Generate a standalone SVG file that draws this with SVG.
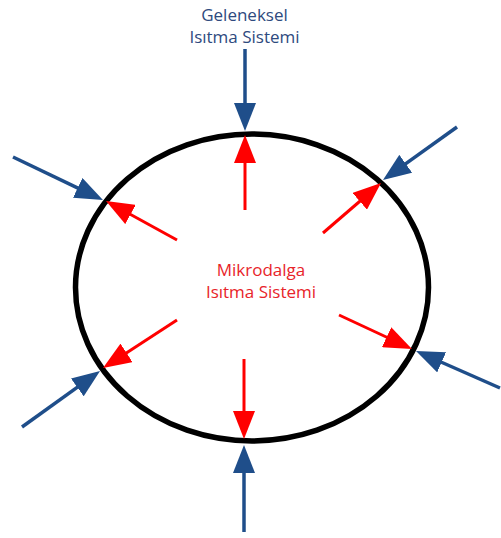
<svg xmlns="http://www.w3.org/2000/svg" width="501" height="538" viewBox="0 0 501 538">
  <style>
    .blue { stroke: #1F4E8A; stroke-width: 3.5; fill: none; }
    .red { stroke: #FF0000; stroke-width: 3; fill: none; }
    .lbl { font-family: "Open Sans", "Noto Sans", sans-serif; font-size: 17px; text-anchor: middle; }
  </style>
  <defs>
    <marker id="hb" markerUnits="userSpaceOnUse" viewBox="0 0 28 22" markerWidth="28" markerHeight="22" refX="2" refY="11" orient="auto">
      <path d="M0,0 L28,11 L0,22 z" fill="#1F4E8A"/>
    </marker>
    <marker id="hr" markerUnits="userSpaceOnUse" viewBox="0 0 28 22" markerWidth="28" markerHeight="22" refX="2" refY="11" orient="auto">
      <path d="M0,0 L28,11 L0,22 z" fill="#FF0000"/>
    </marker>
  </defs>
  <rect width="501" height="538" fill="#FFFFFF"/>
  <g id="body">
    <ellipse cx="252" cy="287.5" rx="176.5" ry="153.5" fill="none" stroke="#000000" stroke-width="5.5"/>
  </g>
  <g id="label-conventional">
    <text class="lbl" x="244.5" y="21" fill="#2E4A7E">Geleneksel</text>
    <text class="lbl" x="244.5" y="43" fill="#2E4A7E">Isıtma Sistemi</text>
  </g>
  <g id="label-microwave">
    <text class="lbl" x="261" y="276" fill="#E8242A">Mikrodalga</text>
    <text class="lbl" x="261" y="298" fill="#E8242A">Isıtma Sistemi</text>
  </g>
  <g id="connectors">
    <line class="blue" x1="245" y1="49" x2="245" y2="105" marker-end="url(#hb)"/>
    <line class="red" x1="245" y1="210" x2="245" y2="161" marker-end="url(#hr)"/>
    <line class="blue" x1="13" y1="157" x2="79.5" y2="188.8" marker-end="url(#hb)"/>
    <line class="red" x1="177" y1="240" x2="128.8" y2="213.5" marker-end="url(#hr)"/>
    <line class="blue" x1="457" y1="127" x2="404.1" y2="164.9" marker-end="url(#hb)"/>
    <line class="red" x1="323" y1="233" x2="361.3" y2="200" marker-end="url(#hr)"/>
    <line class="blue" x1="22" y1="427" x2="78.9" y2="386.2" marker-end="url(#hb)"/>
    <line class="red" x1="177" y1="320" x2="124.8" y2="353.9" marker-end="url(#hr)"/>
    <line class="red" x1="339" y1="315" x2="388.4" y2="338" marker-end="url(#hr)"/>
    <line class="blue" x1="500" y1="388" x2="439.8" y2="361.5" marker-end="url(#hb)"/>
    <line class="red" x1="244" y1="359" x2="244" y2="413" marker-end="url(#hr)"/>
    <line class="blue" x1="244" y1="532" x2="244" y2="471" marker-end="url(#hb)"/>
  </g>
</svg>
